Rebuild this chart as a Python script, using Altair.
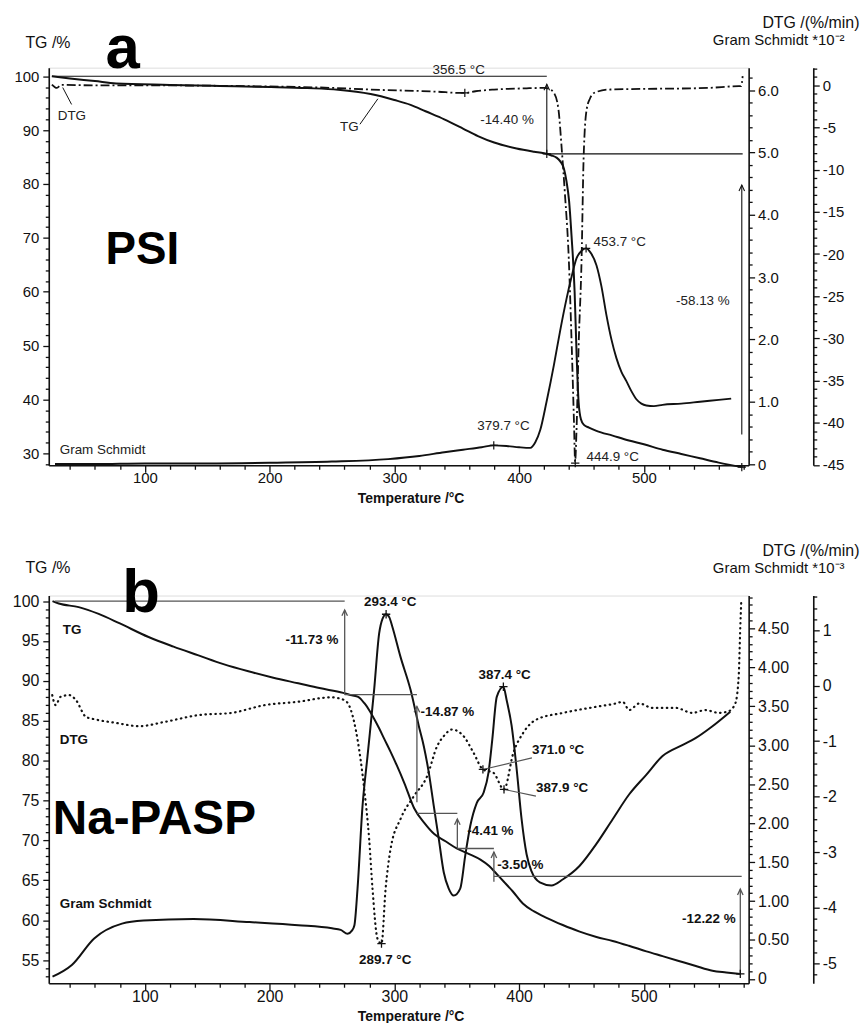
import altair as alt
import pandas as pd

FONT = "Liberation Sans"
INK = "#111111"
GREY = "#555555"

# ---------------- shared x axis ----------------
X_DOMAIN = [23, 584]
X_TICKS = list(range(40, 581, 20))
PLOT_W = 704
A_H = 400
B_H = 390

# ---------------- panel a (PSI) ----------------
A_TG_DOMAIN = [27.8, 101.6]
A_GS_DOMAIN = [-0.02, 6.36]
A_DTG_DOMAIN = [-45.05, 2.1]
A_TG_TICKS = list(range(28, 101, 2))
A_GS_TICKS = [round(0.2 * k, 1) for k in range(0, 32)]
A_DTG_TICKS = list(range(-45, 3))

A_TG_T = [25.5, 40, 60, 77, 120, 160, 201, 230, 255, 281, 300, 313, 325, 340, 355, 367, 380, 398, 412, 420,
          426, 430, 433, 436, 438, 440, 442, 444.5, 446, 447.7, 449.5, 452, 456, 462, 475, 488, 500, 515,
          530, 545, 560, 579]
A_TG = [100, 99.6, 99.1, 98.65, 98.4, 98.2, 98.0, 97.8, 97.5, 96.7, 95.6, 94.7, 93.5, 92.0, 90.3, 88.9, 87.7,
        86.6, 86.0, 85.7, 85.3, 84.9, 84.2, 82.8, 80.5, 77.0, 70.5, 60.0, 49.0, 39.5, 36.4, 35.3, 34.8, 34.2,
        33.3, 32.4, 31.7, 30.7, 29.9, 29.1, 28.3, 27.47]

A_GS_T = [28, 60, 100, 150, 200, 250, 295, 320, 340, 355, 370, 380, 390, 400, 409, 413, 417, 422, 428, 433,
          438, 442, 446, 450, 453.7, 457, 462, 466, 470, 474, 478, 482, 486, 490, 494, 498, 502, 508, 515,
          530, 545, 560, 570]
A_GS = [0, 0.0, 0.01, 0.01, 0.02, 0.04, 0.08, 0.13, 0.19, 0.23, 0.27, 0.30, 0.29, 0.27, 0.26, 0.35, 0.55,
        1.0, 1.6, 2.15, 2.65, 3.0, 3.3, 3.42, 3.46, 3.4, 3.19, 2.85, 2.39, 2.0, 1.70, 1.48, 1.33, 1.17,
        1.04, 0.97, 0.94, 0.93, 0.95, 0.97, 1.0, 1.03, 1.05]

A_DTG_T = [25.5, 29.5, 33, 60, 100, 183, 250, 281, 334, 352.6, 356.5, 365, 380, 406, 420, 425, 428, 431.5,
           434.2, 436.6, 439.8, 442.2, 444, 444.9, 446, 447.7, 450.1, 451.7, 454.1, 457, 460, 472, 552,
           576, 578, 579.2]
A_DTG = [0.1, -0.3, 0.05, 0, 0, -0.1, -0.3, -0.5, -0.75, -0.9, -0.9, -0.7, -0.5, -0.35, -0.3, -0.5, -0.9,
         -2.8, -7.6, -12.6, -20.5, -31, -40, -44.6, -41, -31, -20.5, -8.7, -2.9, -1.5, -0.9, -0.5, -0.3,
         -0.1, -0.1, 1.1]

# annotation geometry (TG units)
A_REF_T1 = [25.5, 422.2, 422.2, 578.5]
A_REF_T2 = [422.2, 422.2, 579.2, 578.5]
A_REF_V1 = [100, 85.6, 85.6, 33.5]
A_REF_V2 = [100, 98.5, 85.6, 79.8]
A_HEAD_T = [422.2, 578.5]
A_HEAD_V = [98.5, 79.8]
A_LEAD_T1 = [272.4, 41.3]
A_LEAD_T2 = [286.8, 34.2]
A_LEAD_V1 = [91.08, 94.77]
A_LEAD_V2 = [95.82, 97.91]
A_TXT = ["356.5 °C", "-14.40 %", "453.7 °C", "379.7 °C", "444.9 °C", "-58.13 %", "TG", "DTG", "Gram Schmidt"]
A_TXT_T = [330.6, 368.8, 459.7, 366.5, 454.1, 525.8, 256.5, 30.2, 31.8]
A_TXT_V = [101.23, 91.82, 69.31, 35.18, 29.27, 58.24, 90.53, 92.56, 30.57]
A_PLUS_TG_T, A_PLUS_TG_V = [422.2, 578.5], [85.6, 27.47]
A_PLUS_GS_T, A_PLUS_GS_V = [453.7, 379.7], [3.46, 0.30]
A_PLUS_DTG_T, A_PLUS_DTG_V = [356.5, 445], [-0.9, -44.8]

# ---------------- panel b (Na-PASP) ----------------
B_TG_DOMAIN = [52.1, 100.7]
B_GS_DOMAIN = [-0.055, 4.92]
B_DTG_DOMAIN = [-5.364, 1.625]
B_TG_TICKS = list(range(53, 101))
B_GS_TICKS = [round(0.1 * k, 1) for k in range(0, 50)]
B_DTG_TICKS = [round(0.2 * k, 1) for k in range(-26, 9)]

B_TG_T = [26, 31, 47, 63, 80, 103, 123, 143, 163, 183, 203, 223, 240, 259, 266, 271, 276, 280, 284, 288, 292,
          297, 302, 308, 316, 324, 332, 341, 350, 360, 369, 376, 382, 388, 395, 403, 412, 422, 435, 448, 462,
          475, 488, 502, 515, 528, 541, 555, 566, 577]
B_TG = [100, 99.7, 99.25, 98.4, 97.2, 95.5, 94.3, 93.2, 92.1, 91.2, 90.4, 89.7, 89.1, 88.5, 88.2, 88.0, 87.2,
        86.3, 85.2, 84.0, 82.7, 81.1, 79.4, 77.2, 74.0, 72.2, 70.8, 69.9, 69.0, 68.3, 67.6, 66.8, 65.8, 64.8,
        63.6, 62.1, 61.1, 60.3, 59.4, 58.6, 57.9, 57.4, 56.8, 56.1, 55.5, 54.9, 54.3, 53.66, 53.45, 53.27]

B_GS_T = [26, 41.5, 59.4, 81.7, 99, 139, 184, 223, 250, 257, 262.5, 266, 268, 270.5, 274.5, 278.5, 283.8,
          287.8, 290.5, 293.4, 296, 298.4, 305, 313, 319.7, 323.7, 327.6, 331.6, 335.6, 339.6, 343.6, 347.6,
          352.8, 356.8, 360.8, 366.1, 371.5, 375.5, 378.5, 382.1, 387.4, 390, 394, 398, 402, 406, 410, 416.6,
          425.9, 435.2, 448.4, 461.8, 475, 488.3, 501.9, 515, 530.8, 541.4, 554.7, 569.3]
B_GS = [0.03, 0.18, 0.52, 0.71, 0.75, 0.77, 0.73, 0.69, 0.65, 0.63, 0.58, 0.62, 0.69, 1.16, 2.22, 2.86, 3.71,
        4.43, 4.62, 4.68, 4.64, 4.52, 4.13, 3.71, 3.24, 2.98, 2.65, 2.22, 1.8, 1.37, 1.16, 1.07, 1.16, 1.58,
        1.96, 2.26, 2.39, 2.65, 3.07, 3.62, 3.75, 3.58, 3.25, 2.7, 2.05, 1.6, 1.38, 1.24, 1.2, 1.28, 1.45,
        1.73, 2.05, 2.37, 2.62, 2.86, 3.0, 3.09, 3.24, 3.43]

B_DTG_T = [25.8, 28.5, 32.5, 39.4, 44.8, 52.7, 60.7, 76.7, 95.2, 116.5, 143, 169.6, 196.2, 222.7, 249.2, 260,
           265.2, 270.5, 275.9, 279.8, 282.5, 286.5, 289.7, 293, 297, 305, 315.7, 326.3, 334.3, 339.6, 346.2,
           355.5, 363.5, 371.0, 379.4, 387.9, 395.4, 403.3, 413.9, 435.2, 461.8, 477.7, 483, 488.3, 496.3,
           506.9, 525.5, 538.8, 549.4, 560, 568, 573.3, 576, 577.3, 578.1]
B_DTG = [-0.17, -0.35, -0.2, -0.17, -0.26, -0.56, -0.61, -0.67, -0.73, -0.65, -0.53, -0.49, -0.35, -0.29,
         -0.21, -0.26, -0.44, -0.97, -1.87, -2.76, -3.66, -4.56, -4.65, -3.66, -2.94, -2.4, -1.99, -1.63,
         -1.09, -0.91, -0.79, -0.91, -1.21, -1.51, -1.57, -1.87, -1.21, -0.85, -0.61, -0.49, -0.38, -0.32,
         -0.29, -0.44, -0.32, -0.4, -0.4, -0.49, -0.44, -0.49, -0.46, -0.32, 0.16, 1.06, 1.54]

B_REF_T1 = [27.8, 260.2, 260.2, 318.1, 318.1, 350.5, 350.5, 379.8, 379.8, 577.3]
B_REF_T2 = [260.2, 260.2, 318.1, 318.1, 350.5, 350.5, 379.8, 379.8, 578.4, 577.3]
B_REF_V1 = [100, 88.27, 88.27, 74.8, 73.4, 68.99, 68.99, 64.81, 65.49, 53.27]
B_REF_V2 = [100, 98.9, 88.27, 86.8, 73.4, 72.7, 68.99, 68.55, 65.49, 63.9]
B_HEAD_T = [260.2, 318.1, 350.5, 379.8, 577.3]
B_HEAD_V = [98.9, 86.8, 72.7, 68.55, 63.9]
B_LEAD_T1 = [371.0, 387.9]
B_LEAD_T2 = [410.3, 413.5]
B_LEAD_V1 = [-1.51, -1.87]
B_LEAD_V2 = [-1.30, -1.99]
B_TXT_L = ["371.0 °C", "387.9 °C", "-11.73 %", "-14.87 %", "-4.41 %", "-3.50 %", "TG", "DTG", "Gram Schmidt"]
B_TXT_L_T = [410.3, 413.5, 212.7, 321, 358.5, 382.4, 34.2, 31.8, 31.8]
B_TXT_L_V = [81.3, 76.61, 95.09, 86.16, 71.2, 66.93, 96.34, 82.63, 62.0]
B_TXT_C = ["293.4 °C", "387.4 °C", "289.7 °C"]
B_TXT_C_T = [296.7, 388.4, 292.7]
B_TXT_C_V = [99.87, 90.73, 55.01]
B_TXT_R = ["-12.22 %"]
B_TXT_R_T = [573.6]
B_TXT_R_V = [60.2]
B_PLUS_TG_T, B_PLUS_TG_V = [577.3], [53.27]
B_PLUS_GS_T, B_PLUS_GS_V = [293.4, 387.4], [4.68, 3.75]
B_PLUS_DTG_T, B_PLUS_DTG_V = [289.7, 371.0, 387.9], [-4.65, -1.51, -1.87]

PLUS = "M-1,0L1,0M0,-1L0,1"
HEAD = "M-0.8,1.7L0,0L0.8,1.7"


def xenc(axis=None):
    return alt.X("T:Q", scale=alt.Scale(domain=X_DOMAIN, nice=False, zero=False), axis=axis)


def yenc(field, dom, axis=None):
    return alt.Y(f"{field}:Q", scale=alt.Scale(domain=dom, nice=False, zero=False), axis=axis)


def make_axis(orient, values, major, label, fs, tick=(6, 3.5), pad=3, **kw):
    return alt.Axis(orient=orient, values=values, grid=False,
                    domainColor=INK, domainWidth=1.6, tickColor=INK, tickWidth=1.3,
                    tickSize={"condition": {"test": major, "value": tick[0]}, "value": tick[1]},
                    labelExpr=f"({major}) ? ({label}) : ''",
                    labelFont=FONT, labelFontSize=fs, labelColor=INK,
                    labelPadding=pad, labelOverlap=False, labelFlush=False, **kw)


def line(T, v, dom, yaxis=None, xaxis=None, **mk):
    df = pd.DataFrame({"T": T, "v": v})
    return alt.Chart(df).mark_line(interpolate="monotone", color=INK, **mk).encode(
        x=xenc(xaxis), y=yenc("v", dom, yaxis))


def rules(T1, T2, V1, V2, dom, color, width):
    df = pd.DataFrame({"T": T1, "T2": T2, "v": V1, "v2": V2})
    return alt.Chart(df).mark_rule(color=color, strokeWidth=width).encode(
        x=xenc(), x2="T2:Q", y=yenc("v", dom), y2="v2:Q")


def points(T, v, dom, shape, size, color, width):
    df = pd.DataFrame({"T": T, "v": v})
    return alt.Chart(df).mark_point(shape=shape, size=size, filled=False, color=color,
                                    strokeWidth=width, opacity=1).encode(x=xenc(), y=yenc("v", dom))


def texts(T, v, labels, dom, align="left", fs=13.5, weight="normal", baseline="middle", color=INK):
    df = pd.DataFrame({"T": T, "v": v, "label": labels})
    return alt.Chart(df).mark_text(align=align, baseline=baseline, font=FONT, fontSize=fs,
                                   fontWeight=weight, color=color).encode(
        x=xenc(), y=yenc("v", dom), text="label:N")


def x_axis(fs):
    return make_axis("bottom", X_TICKS, "datum.value % 100 === 0", "'' + datum.value", fs, tick=(7, 4), pad=-2,
                     title="Temperature /°C", titleFont=FONT, titleFontSize=14, titleFontWeight="bold",
                     titleColor=INK, titleX=364, titleY=33, titleBaseline="middle", titleAlign="center")


def title_kw(text, x, y, align, fs=16, weight="normal"):
    return dict(title=text, titleAngle=0, titleAlign=align, titleBaseline="alphabetic", titleX=x, titleY=y,
                titleFont=FONT, titleFontSize=fs, titleFontWeight=weight, titleColor=INK)


INT_MAJOR10 = "datum.value % 10 === 0"
INT_MAJOR5 = "datum.value % 5 === 0"
WHOLE = "abs(datum.value - round(datum.value)) < 0.001"
HALF = "abs(datum.value * 2 - round(datum.value * 2)) < 0.001"

# ---------------- build panel a ----------------
a_tg_axis = make_axis("left", A_TG_TICKS, INT_MAJOR10, "'' + datum.value", 15, pad=4,
                      **title_kw("TG /%", -24, -20, "left"))
a_gs_axis = make_axis("right", A_GS_TICKS, WHOLE, "datum.value === 0 ? '0' : format(datum.value, '.1f')", 15,
                      pad=3, **title_kw("Gram Schmidt *10⁻²", 96, -23, "right", fs=15))
a_dtg_axis = make_axis("right", A_DTG_TICKS, INT_MAJOR5, "'' + datum.value", 15, pad=3, offset=65,
                       **title_kw("DTG /(%/min)", 46, -40, "right"))

panel_a = alt.layer(
    line(A_TG_T, A_TG, A_TG_DOMAIN, yaxis=a_tg_axis, xaxis=x_axis(15), strokeWidth=2),
    line(A_GS_T, A_GS, A_GS_DOMAIN, yaxis=a_gs_axis, strokeWidth=1.9),
    line(A_DTG_T, A_DTG, A_DTG_DOMAIN, yaxis=a_dtg_axis, strokeWidth=1.8, strokeDash=[9, 3, 2, 3]),
    rules(A_REF_T1, A_REF_T2, A_REF_V1, A_REF_V2, A_TG_DOMAIN, INK, 1.1),
    rules(A_LEAD_T1, A_LEAD_T2, A_LEAD_V1, A_LEAD_V2, A_TG_DOMAIN, INK, 1.0),
    points(A_HEAD_T, A_HEAD_V, A_TG_DOMAIN, HEAD, 49, INK, 1.1),
    points(A_PLUS_TG_T, A_PLUS_TG_V, A_TG_DOMAIN, PLUS, 70, INK, 1.2),
    points(A_PLUS_GS_T, A_PLUS_GS_V, A_GS_DOMAIN, PLUS, 70, INK, 1.2),
    points(A_PLUS_DTG_T, A_PLUS_DTG_V, A_DTG_DOMAIN, PLUS, 70, INK, 1.2),
    texts(A_TXT_T, A_TXT_V, A_TXT, A_TG_DOMAIN, fs=13.5, color="#222222"),
    texts([68.4], [65.07], ["PSI"], A_TG_DOMAIN, fs=46, weight="bold", baseline="alphabetic", color="#000000"),
    texts([68.4], [101.6], ["a"], A_TG_DOMAIN, fs=62, weight="bold", baseline="alphabetic", color="#000000"),
).resolve_scale(x="independent", y="independent").resolve_axis(x="independent", y="independent").properties(
    width=PLOT_W, height=A_H)

# ---------------- build panel b ----------------
b_tg_axis = make_axis("left", B_TG_TICKS, INT_MAJOR5, "'' + datum.value", 16, pad=4,
                      **title_kw("TG /%", -24, -23, "left"))
b_gs_axis = make_axis("right", B_GS_TICKS, HALF, "datum.value === 0 ? '0' : format(datum.value, '.2f')", 16,
                      pad=3, **title_kw("Gram Schmidt *10⁻³", 96, -23, "right", fs=15))
b_dtg_axis = make_axis("right", B_DTG_TICKS, WHOLE, "'' + round(datum.value)", 16, pad=3, offset=65,
                       **title_kw("DTG /(%/min)", 46, -40, "right"))

panel_b = alt.layer(
    line(B_TG_T, B_TG, B_TG_DOMAIN, yaxis=b_tg_axis, xaxis=x_axis(16), strokeWidth=2),
    line(B_GS_T, B_GS, B_GS_DOMAIN, yaxis=b_gs_axis, strokeWidth=2),
    line(B_DTG_T, B_DTG, B_DTG_DOMAIN, yaxis=b_dtg_axis, strokeWidth=2.2, strokeDash=[0.5, 4.5],
         strokeCap="round"),
    rules(B_REF_T1, B_REF_T2, B_REF_V1, B_REF_V2, B_TG_DOMAIN, GREY, 1.3),
    rules(B_LEAD_T1, B_LEAD_T2, B_LEAD_V1, B_LEAD_V2, B_DTG_DOMAIN, GREY, 1.2),
    points(B_HEAD_T, B_HEAD_V, B_TG_DOMAIN, HEAD, 49, GREY, 1.3),
    points(B_PLUS_TG_T, B_PLUS_TG_V, B_TG_DOMAIN, PLUS, 70, INK, 1.3),
    points(B_PLUS_GS_T, B_PLUS_GS_V, B_GS_DOMAIN, PLUS, 70, INK, 1.3),
    points(B_PLUS_DTG_T, B_PLUS_DTG_V, B_DTG_DOMAIN, PLUS, 70, INK, 1.3),
    texts(B_TXT_L_T, B_TXT_L_V, B_TXT_L, B_TG_DOMAIN, fs=13.5, weight="bold"),
    texts(B_TXT_C_T, B_TXT_C_V, B_TXT_C, B_TG_DOMAIN, align="center", fs=13.5, weight="bold"),
    texts(B_TXT_R_T, B_TXT_R_V, B_TXT_R, B_TG_DOMAIN, align="right", fs=13.5, weight="bold"),
    texts([26.2], [70.79], ["Na-PASP"], B_TG_DOMAIN, fs=48, weight="bold", baseline="alphabetic",
          color="#000000"),
    texts([82], [98.58], ["b"], B_TG_DOMAIN, fs=62, weight="bold", baseline="alphabetic", color="#000000"),
).resolve_scale(x="independent", y="independent").resolve_axis(x="independent", y="independent").properties(
    width=PLOT_W, height=B_H)

chart = alt.vconcat(panel_a, panel_b, spacing=131, bounds="flush").properties(
    padding={"left": 3, "top": 3, "right": 0, "bottom": 0}
).configure_view(stroke=None).configure(background="white")

chart.save("out.html", embed_options={"renderer": "svg", "actions": False})
